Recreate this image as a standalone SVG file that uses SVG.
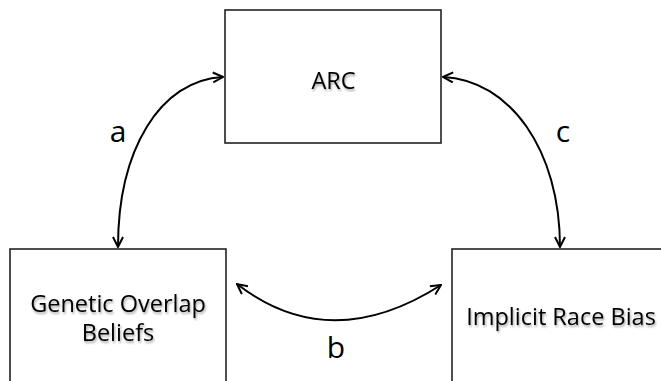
<svg xmlns="http://www.w3.org/2000/svg" width="661" height="381" viewBox="0 0 661 381">
<style>
.box{fill:#fff;stroke:#222;stroke-width:1.6}
.lbl{font-family:"Open Sans","Liberation Sans",sans-serif;font-size:23.5px;fill:#000;text-anchor:middle}
.let{font-family:"Open Sans","Liberation Sans",sans-serif;font-size:30px;fill:#000;text-anchor:middle}
.conn{fill:none;stroke:#000;stroke-width:2}
</style>
<defs>
<marker id="ah" viewBox="0 0 12 12" refX="11" refY="6" markerWidth="12" markerHeight="12" markerUnits="userSpaceOnUse" orient="auto-start-reverse">
<path d="M1,1 L11,6 L1,11" fill="none" stroke="#000" stroke-width="2"/>
</marker>
<filter id="sh" x="-10%" y="-20%" width="130%" height="160%">
<feDropShadow dx="1" dy="2" stdDeviation="1.2" flood-color="#000" flood-opacity="0.35"/>
</filter>
</defs>
<g id="arc">
<rect class="box" x="225" y="10" width="216" height="133"/>
<text class="lbl" x="333.5" y="89" filter="url(#sh)">ARC</text>
</g>
<g id="genetic">
<rect class="box" x="10" y="249" width="216" height="150"/>
<text class="lbl" x="118" y="312" filter="url(#sh)">Genetic Overlap</text>
<text class="lbl" x="118" y="341" filter="url(#sh)">Beliefs</text>
</g>
<g id="implicit">
<rect class="box" x="452" y="249" width="230" height="150"/>
<text class="lbl" x="561" y="325" filter="url(#sh)">Implicit Race Bias</text>
</g>
<g id="connectors">
<path class="conn" d="M223,77 C160,80 118,150 118,247" marker-start="url(#ah)" marker-end="url(#ah)"/>
<path class="conn" d="M443,77 C510,80 560,150 560,247" marker-start="url(#ah)" marker-end="url(#ah)"/>
<path class="conn" d="M237,284 Q330,356 441,285" marker-start="url(#ah)" marker-end="url(#ah)"/>
<text class="let" x="118" y="142">a</text>
<text class="let" x="336" y="358">b</text>
<text class="let" x="563" y="142">c</text>
</g>
</svg>
